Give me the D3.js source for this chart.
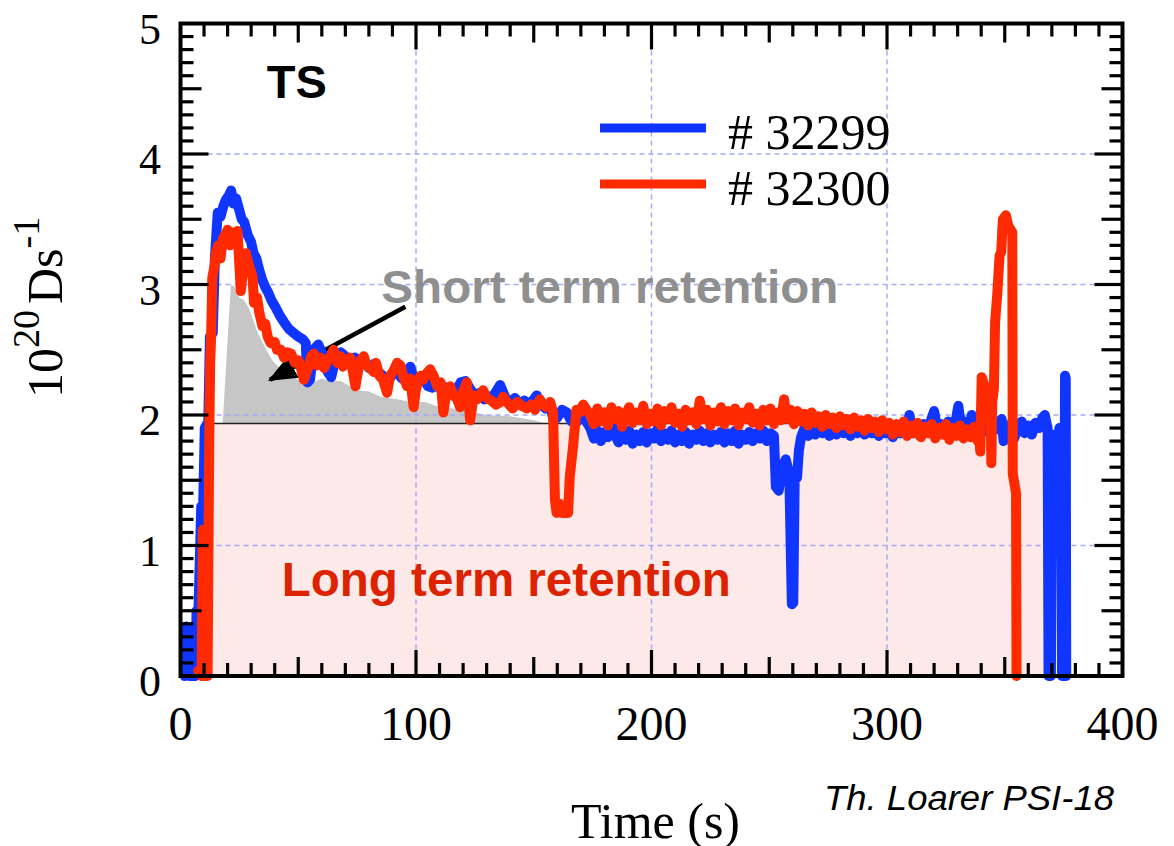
<!DOCTYPE html>
<html>
<head>
<meta charset="utf-8">
<script src="https://cdn.jsdelivr.net/npm/d3@7"></script>
<style>
  body { margin: 0; background: #fff; }
  svg { display: block; }
</style>
</head>
<body>
<svg id="chart" width="1174" height="846"></svg>
<script>
// Deuterium flux, shot #32299: [time (s), 10^20 D/s]
const shot32299 = [
  [1.8,0],[2.6,0.38],[3.2,0.36],[3.6,0],[6.4,0],[6.8,0.5],[7.6,0.48],[8.8,1.3],[9.6,1.28],
  [10.3,1.9],[11.8,1.95],[12.5,2.6],[13.7,2.63],[14.6,3.2],[15.8,3.55],[17,3.52],[18.2,3.6],
  [19.3,3.65],[20.5,3.68],[21.5,3.72],[22.5,3.62],[23.6,3.66],[24.8,3.58],[26,3.5],[27,3.48],
  [28.5,3.38],[29.9,3.33],[31,3.24],[32.2,3.2],[33.3,3.12],[34.6,3.04],[36,2.98],[37.2,2.94],
  [38.6,2.88],[40.5,2.82],[42.2,2.76],[44,2.71],[46,2.66],[48,2.63],[50,2.6],[52,2.58],
  [53.2,2.55],[53.9,2.25],[55,2.27],[56.5,2.5],[58.5,2.54],[60.5,2.46],[62.5,2.33],[64,2.29],
  [65.8,2.43],[68,2.48],[70,2.45],[72,2.4],[74,2.44],[76,2.38],[78,2.41],[80,2.36],[82,2.39],
  [84,2.33],[86,2.3],[88,2.26],[90,2.31],[92,2.33],[94,2.28],[96,2.31],[97.6,2.37],[99,2.28],
  [101,2.25],[103,2.3],[105,2.22],[107,2.21],[109,2.25],[111,2.18],[113,2.21],[115,2.16],
  [117,2.19],[119,2.25],[121,2.26],[123,2.2],[125,2.15],[127,2.17],[129,2.12],[131,2.14],
  [133,2.15],[135.7,2.23],[138,2.13],[140,2.1],[142,2.13],[144,2.08],[146,2.11],[148,2.08],
  [150,2.12],[151.3,2.15],[153,2.08],[155,2.05],[157,2.06],[158.5,1.96],[160,1.98],[162,2.04],
  [164,2.02],[166,1.95],[168,1.94],[170,2.0],[172,1.96],
  [174,1.9],[175.5,1.82],[177,1.88],[178.5,1.8],[180,1.87],[181.5,1.83],[183,1.97],[184.5,1.85],
  [186,1.79],[187.5,1.86],[189,1.81],[190.5,1.88],[192,1.78],[193.5,1.85],[195,1.8],[196.5,1.87],
  [198,1.79],[199.5,1.86],[201,1.82],[202.5,1.89],[204,1.8],[205.5,1.86],[207,1.81],[208.5,1.88],
  [210,1.79],[211.5,1.85],[213,1.8],[214.5,1.87],[216,1.78],[217.5,1.85],[219,1.81],[220.5,1.88],
  [222,1.8],[223.5,1.86],[225,1.79],[226.5,1.85],[228,1.81],[229.5,1.87],[231,1.79],[232.5,1.86],
  [234,1.8],[235.5,1.88],[237,1.78],[238.5,1.85],[240,1.81],[241.5,1.87],[243,1.8],[244.5,1.86],
  [246,1.82],[247.5,1.88],[249,1.8],[250.5,1.86],[252,1.84],
  [252.8,1.45],[254,1.42],[255.5,1.6],[257,1.66],[258.5,1.55],[259.6,0.55],[260.2,0.56],
  [260.8,1.5],[261.8,1.52],[262.6,1.73],
  [263.5,1.83],[265,1.9],[266.5,1.84],[268,1.91],[269.5,1.85],[271,1.93],[272.5,1.86],[274,1.92],
  [275.5,1.84],[277,1.9],[278.5,1.85],[280,1.93],[281.5,1.86],[283,1.91],[284.5,1.84],[286,1.92],
  [287.5,1.86],[289,1.94],[290.5,1.85],[292,1.91],[293.5,1.86],[295,1.93],[296.5,1.84],[298,1.9],
  [299.5,1.86],[301,1.92],[302.5,1.83],[304,1.9],[305.5,1.86],[307,1.93],[308.5,1.85],[309.5,2.0],
  [311,1.86],[312.5,1.92],[314,1.84],[315.5,1.93],[317,1.87],[318.5,1.95],[320,2.03],[321.5,1.88],
  [323,1.93],[324.5,1.85],[326,1.95],[327.5,1.88],[329,1.94],[330.3,2.07],[331.5,1.9],[333,1.95],
  [334.5,1.87],[336,2.0],[337.5,1.9],[339,1.96],[340.5,1.88],[342,1.94],[343.5,1.86],[345,1.97],
  [346.5,1.89],[348.7,1.97],[349.5,1.8],[351,1.87],[352.5,1.93],[354,1.82],[355.5,1.9],[357.2,1.95],
  [358.5,1.86],[360,1.92],[361.5,1.85],[363,1.94],[364.5,1.9],[366,1.98],[367,2.0],[368.2,1.9],
  [368.6,0],[369.6,0],[370.2,1.85],[371.5,1.8],[372.3,1.42],[373.2,1.9],[374,1.88],[374.3,0],
  [375.2,0],[375.6,2.3],[375.9,2.28],[376.1,0]
];

// Deuterium flux, shot #32300: [time (s), 10^20 D/s]
const shot32300 = [
  [7.5,0.04],[9.0,0],[9.5,1.12],[10.0,1.1],[10.3,0],[11.5,0],[12.2,1.8],[12.6,2.4],[13,2.6],
  [13.5,3.05],[14.5,3.15],[15,3.24],[16,3.3],[17,3.2],[18,3.35],[19,3.38],[20,3.42],[21,3.3],
  [22,3.4],[23,3.38],[24.2,3.41],[25,3.15],[25.6,2.95],[26.5,3.1],[27.8,3.24],[29,3.15],
  [30.6,3.06],[31.2,2.86],[32.5,2.9],[33.5,2.78],[34.8,2.68],[36,2.7],[37,2.6],[38.3,2.55],
  [40,2.56],[41,2.5],[42.6,2.5],[44,2.44],[45.5,2.48],[47,2.47],[48.5,2.4],[50,2.42],[51,2.37],
  [52.4,2.27],[54,2.35],[55.5,2.45],[56.6,2.47],[58,2.38],[59.5,2.44],[61,2.36],[62.5,2.42],
  [64,2.46],[65,2.5],[66.5,2.4],[68,2.45],[69,2.37],[70.5,2.42],[72,2.44],[73,2.35],[74.3,2.22],
  [75.5,2.35],[76.5,2.42],[77.8,2.45],[79,2.38],[80.5,2.36],[82,2.33],[83,2.4],[84.5,2.3],
  [86,2.27],[87.7,2.17],[89,2.3],[90.5,2.34],[92,2.4],[93.4,2.38],[94.5,2.3],[96.2,2.22],
  [97.5,2.28],[99,2.06],[100,2.2],[101.8,2.3],[103,2.27],[104.5,2.32],[106,2.35],[107.5,2.3],
  [109,2.22],[110.5,2.25],[111.6,2.02],[113,2.18],[114.5,2.22],[116,2.15],[117.5,2.12],
  [118.7,2.06],[120,2.18],[121.6,2.25],[123,1.96],[124.5,2.15],[126,2.12],[128.5,2.19],
  [130,2.13],[132,2.11],[134,2.08],[136,2.1],[137,2.14],[139,2.09],[141,2.05],[143,2.1],
  [145,2.07],[147,2.05],[149,2.08],[150.5,2.04],[152.6,2.12],[154,2.08],[155.4,2.06],[157,2.1],
  [158.2,2.02],[159,1.35],[159.7,1.25],[161,1.32],[162,1.25],[164.6,1.25],[165.3,1.53],
  [166.7,1.76],[168.1,2.04],[169.5,2.02],[171,2.08],[172.4,2.04],
  [174,2.0],[175.5,1.93],[177,2.05],[178.5,1.95],[180,2.02],[181.5,1.92],[183,2.06],[184.5,1.97],
  [186,2.03],[187.5,1.91],[189,2.0],[190.5,2.06],[192,1.94],[193.5,2.02],[195,1.96],[196.5,2.07],
  [198,1.93],[199.5,2.01],[201,1.95],[202.5,2.05],[204,1.92],[205.5,2.03],[207,1.97],[208.5,2.06],
  [210,1.94],[211.5,2.01],[213,1.91],[214.5,2.04],[216,1.96],[217.5,2.02],[219,1.93],[220.5,2.11],
  [222,1.97],[223.5,2.04],[225,1.92],[226.5,2.02],[228,1.95],[229.5,2.06],[231,1.93],[232.5,2.03],
  [234,1.96],[235.5,2.05],[237,1.92],[238.5,2.02],[240,1.97],[241.5,2.06],[243,1.94],[244.5,2.01],
  [246,1.92],[247.5,2.04],[249,1.96],[250.5,2.05],[252,1.93],[253.5,2.02],[255,1.96],[256.3,2.12],
  [257.5,1.97],[259,2.04],[260.5,1.93],[262,2.03],[263.5,1.95],[265,2.01],[266.5,1.92],[268,2.02],
  [269.5,1.94],[271,1.99],[272.5,1.91],[274,2.0],[275.5,1.93],[277,1.98],[278.5,1.9],[280,1.99],
  [281.5,1.92],[283,1.97],[284.5,1.89],[286,1.98],[287.5,1.91],[289,1.96],[290.5,1.88],[292,1.97],
  [293.5,1.9],[295,1.95],[296.5,1.87],[298,1.96],[299.5,1.89],[301,1.94],[302.5,1.85],[304,1.93],
  [305.5,1.87],[307,1.95],[308.5,1.84],[310,1.92],[311.5,1.86],[313,1.94],[314.5,1.83],[316,1.91],
  [317.5,1.86],[319,1.93],[320.5,1.82],[322,1.9],[323.5,1.85],[325,1.93],[326.5,1.81],[328,1.9],
  [329.5,1.84],[331,1.92],[332.5,1.82],[334,1.89],[335.5,1.83],[337,1.91],[338.5,1.8],
  [339.2,1.83],[339.6,1.72],[340.2,2.29],[341.5,2.22],[343,2.2],
  [344,2.15],[344.3,1.63],[344.7,2.1],[345.4,2.2],[345.9,2.71],[346.8,2.92],[347.8,3.22],
  [348.5,3.25],[349.2,3.5],[350.5,3.53],[351.5,3.45],[352.5,3.42],[353.2,3.4],[353.4,1.55],
  [354.8,1.4],[355,0]
];

// Upper edge of the short term retention area, [time (s), 10^20 D/s]
const shortTermTop = [
  [17.9,1.935],[21.4,3.0],[23,2.98],[25,2.9],[27,2.88],[29,2.82],[31,2.72],[33,2.62],[35,2.55],
  [37,2.48],[39,2.42],[41,2.38],[44,2.33],[47,2.3],[50,2.27],[53,2.23],[56,2.25],[60,2.28],
  [64,2.26],[68,2.26],[72,2.22],[75,2.19],[80,2.18],[85,2.14],[92,2.12],[98,2.1],[104,2.1],
  [110,2.06],[116,2.05],[122,2.03],[130,2.0],[140,1.99],[150,1.96],[155,1.935]
];

// Long term retention level and its time span
const longTermLevel = 1.935;
const longTermSpan = [10.4, 367.7];
const longTermLineEnd = 360;

// Axis ticks
const xTickValues = [0, 100, 200, 300, 400];
const yTickValues = [0, 1, 2, 3, 4, 5];
const xGridValues = [100, 200, 300];
const yGridValues = [1, 2, 3, 4];

// Legend entries
const legendLabels = ["# 32299", "# 32300"];
const seriesColors = ["#1035ff", "#ff2a00"];

// Annotation arrow, [time, value] from tail to head
const arrowTail = [95.5, 2.83];
const arrowHead = [38.0, 2.27];

const svg = d3.select("#chart");

const x = d3.scaleLinear().domain([0, 400]).range([180.5, 1122.5]);
const y = d3.scaleLinear().domain([0, 5]).range([676, 23.5]);

const serif = "'Liberation Serif', 'Times New Roman', serif";
const sans = "'Liberation Sans', Arial, Helvetica, sans-serif";

// Long term retention area
svg.append("rect")
  .attr("x", x(longTermSpan[0]))
  .attr("y", y(longTermLevel))
  .attr("width", x(longTermSpan[1]) - x(longTermSpan[0]))
  .attr("height", y(0) - y(longTermLevel))
  .attr("fill", "#fde9e7");

// Short term retention area
const area = d3.area()
  .x(d => x(d[0]))
  .y0(y(longTermLevel))
  .y1(d => y(d[1]));
svg.append("path")
  .datum(shortTermTop)
  .attr("d", area)
  .attr("fill", "#c6c6c6");

// Grid
const grid = svg.append("g")
  .attr("stroke", "#a4aaf7")
  .attr("stroke-width", 1.5)
  .attr("stroke-dasharray", "5,4");
grid.selectAll("line.gx").data(xGridValues).join("line")
  .attr("x1", d => x(d)).attr("x2", d => x(d))
  .attr("y1", y(5)).attr("y2", y(0));
grid.selectAll("line.gy").data(yGridValues).join("line")
  .attr("x1", x(0)).attr("x2", x(400))
  .attr("y1", d => y(d)).attr("y2", d => y(d));

// Outline of the long term level
svg.append("path")
  .attr("d", d3.line()([
    [x(longTermSpan[0]), y(0)],
    [x(longTermSpan[0]), y(longTermLevel)],
    [x(longTermLineEnd), y(longTermLevel)]
  ]))
  .attr("fill", "none")
  .attr("stroke", "#222")
  .attr("stroke-width", 1.6);

// Arrow
svg.append("defs").append("marker")
  .attr("id", "arrowhead")
  .attr("viewBox", "0 0 12 10")
  .attr("refX", 11).attr("refY", 5)
  .attr("markerWidth", 6.4).attr("markerHeight", 5.3)
  .attr("markerUnits", "strokeWidth")
  .attr("orient", "auto")
  .append("path")
  .attr("d", "M0,0 L12,5 L0,10 Z")
  .attr("fill", "#000");
svg.append("line")
  .attr("x1", x(arrowTail[0])).attr("y1", y(arrowTail[1]))
  .attr("x2", x(arrowHead[0])).attr("y2", y(arrowHead[1]))
  .attr("stroke", "#000")
  .attr("stroke-width", 4.5)
  .attr("marker-end", "url(#arrowhead)");

// Data lines
const line = d3.line().x(d => x(d[0])).y(d => y(d[1]));
[shot32299, shot32300].forEach((s, i) => {
  svg.append("path")
    .datum(s)
    .attr("d", line)
    .attr("fill", "none")
    .attr("stroke", seriesColors[i])
    .attr("stroke-width", 10)
    .attr("stroke-linejoin", "round")
    .attr("stroke-linecap", "round");
});

// Frame
svg.append("rect")
  .attr("x", x(0)).attr("y", y(5))
  .attr("width", x(400) - x(0)).attr("height", y(0) - y(5))
  .attr("fill", "none").attr("stroke", "#000").attr("stroke-width", 4);

// Tick marks (inside, all four sides)
const ticks = svg.append("g").attr("stroke", "#000").attr("stroke-width", 3.2);
const xMinor = d3.range(10, 400, 10);
const xLen = t => (t % 100 === 0 ? 26 : t % 50 === 0 ? 19 : 13);
ticks.selectAll("line.xb").data(xMinor).join("line")
  .attr("x1", d => x(d)).attr("x2", d => x(d))
  .attr("y1", y(0)).attr("y2", d => y(0) - xLen(d));
ticks.selectAll("line.xt").data(xMinor).join("line")
  .attr("x1", d => x(d)).attr("x2", d => x(d))
  .attr("y1", y(5)).attr("y2", d => y(5) + xLen(d));
const yMinor = d3.range(1, 50).map(k => k / 10);
const yLen = k => (Math.abs(k - Math.round(k)) < 1e-6 ? 28 : Math.abs(k * 2 - Math.round(k * 2)) < 1e-6 ? 21 : 13);
ticks.selectAll("line.yl").data(yMinor).join("line")
  .attr("y1", d => y(d)).attr("y2", d => y(d))
  .attr("x1", x(0)).attr("x2", d => x(0) + yLen(d));
ticks.selectAll("line.yr").data(yMinor).join("line")
  .attr("y1", d => y(d)).attr("y2", d => y(d))
  .attr("x1", x(400)).attr("x2", d => x(400) - yLen(d));

// Tick labels
svg.append("g").selectAll("text").data(xTickValues).join("text")
  .attr("x", d => x(d)).attr("y", 740)
  .attr("text-anchor", "middle")
  .attr("font-family", serif).attr("font-size", 48)
  .text(d => d);
svg.append("g").selectAll("text").data(yTickValues).join("text")
  .attr("x", 161).attr("y", d => y(d) + 20)
  .attr("text-anchor", "end")
  .attr("font-family", serif).attr("font-size", 44)
  .text(d => d);

// Axis titles
svg.append("text")
  .attr("x", (x(0) + x(400)) / 2 + 4).attr("y", 838)
  .attr("text-anchor", "middle")
  .attr("font-family", serif).attr("font-size", 50)
  .text("Time (s)");

const yTitle = svg.append("text")
  .attr("transform", "translate(62,398) rotate(-90)")
  .attr("font-family", serif).attr("font-size", 50);
yTitle.append("tspan").text("10");
yTitle.append("tspan").attr("dy", -23).attr("font-size", 38).text("20");
yTitle.append("tspan").attr("dy", 23).attr("dx", 6).text("Ds");
yTitle.append("tspan").attr("dy", -23).attr("font-size", 38).text("-1");

// Annotations
svg.append("text")
  .attr("x", x(36.6)).attr("y", y(4.428))
  .attr("font-family", sans).attr("font-weight", "bold").attr("font-size", 47)
  .text("TS");
svg.append("text")
  .attr("x", x(85.3)).attr("y", y(2.861))
  .attr("font-family", sans).attr("font-weight", "bold").attr("font-size", 47)
  .attr("fill", "#8f8f8f")
  .attr("textLength", 457).attr("lengthAdjust", "spacingAndGlyphs")
  .text("Short term retention");
svg.append("text")
  .attr("x", x(43.0)).attr("y", y(0.611))
  .attr("font-family", sans).attr("font-weight", "bold").attr("font-size", 47.5)
  .attr("fill", "#dd2200")
  .attr("textLength", 449).attr("lengthAdjust", "spacingAndGlyphs")
  .text("Long term retention");

// Legend
const legend = svg.append("g");
legendLabels.forEach((lab, i) => {
  const ly = 128 + i * 56;
  legend.append("line")
    .attr("x1", 600).attr("x2", 706).attr("y1", ly).attr("y2", ly)
    .attr("stroke", seriesColors[i]).attr("stroke-width", 9);
  legend.append("text")
    .attr("x", 728).attr("y", ly + 21)
    .attr("font-family", serif).attr("font-size", 50)
    .text(lab);
});

// Credit
svg.append("text")
  .attr("x", 824).attr("y", 810)
  .attr("font-family", sans).attr("font-style", "italic").attr("font-size", 35)
  .attr("textLength", 290).attr("lengthAdjust", "spacingAndGlyphs")
  .text("Th. Loarer PSI-18");
</script>
</body>
</html>
